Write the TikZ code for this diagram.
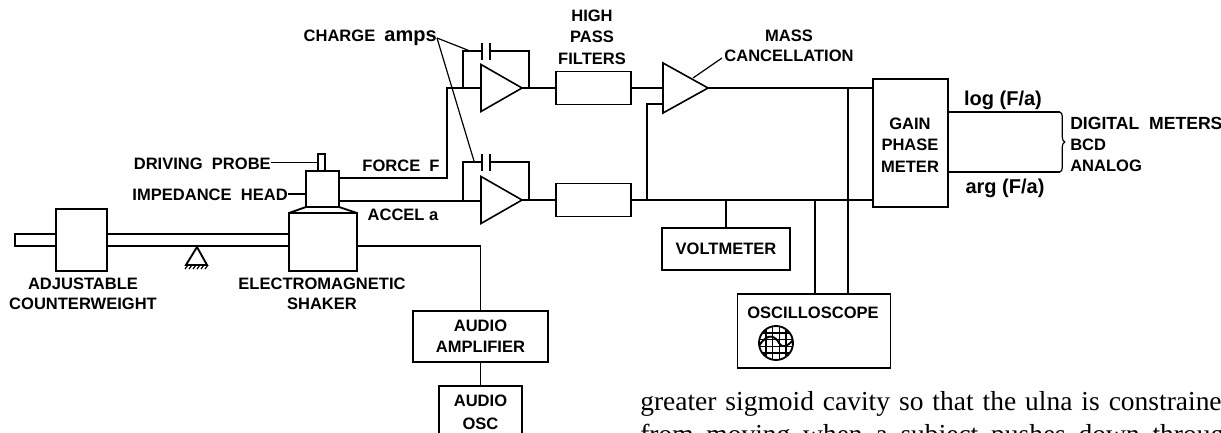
\documentclass[tikz,border=0pt]{standalone}
\usepackage{fontspec}
\setmainfont{Liberation Sans}
\newfontfamily\bookfont{Liberation Serif}
\usepackage{tikz}
\usetikzlibrary{calc,shapes.geometric,decorations.pathreplacing,positioning}
\def\px{0.75pt}
\newcommand{\lettering}{\bfseries\fontsize{12.4}{14}\selectfont}
\newcommand{\lowercaselettering}{\bfseries\fontsize{15}{14}\selectfont}
\tikzset{
  unit/.style={draw,line width=1.2pt,inner sep=0pt,outer sep=0pt,align=center,font=\lettering},
  ampl/.style={draw,line width=1.2pt,isosceles triangle,isosceles triangle stretches,inner sep=0pt,outer sep=0pt},
  lbl/.style={inner sep=0pt,align=center,font=\lettering},
  wire/.style={line width=1.4pt,line join=miter},
  thin wire/.style={line width=0.9pt},
  page line/.style={anchor=base west,inner sep=0pt,font=\bookfont\fontsize{20.6}{24}\selectfont}
}
\begin{document}
\begin{tikzpicture}[x=0.75pt,y=-0.75pt]
  \clip (0,0) rectangle (1221,432);
  % beam and shaker
  \node[unit,minimum width=51*\px,minimum height=62*\px] (counter) at (81.5,240) {};
  \node[unit,minimum width=68*\px,minimum height=58*\px] (shaker) at (323,242) {};
  \node[unit,minimum width=33*\px,minimum height=36*\px] (head) at (322.5,189) {};
  \node[unit,minimum width=7*\px,minimum height=17*\px] (probe) at (321.5,162.5) {};
  \draw[wire] (shaker.north west) -- (head.south west) (head.south east) -- (shaker.north east);
  \coordinate (rodtop) at (15,234);
  \coordinate (rodbot) at (15,246);
  \draw[wire] (counter.west |- rodtop) -- (rodtop) -- (rodbot) -- (counter.west |- rodbot);
  \draw[wire] (counter.east |- rodtop) -- (shaker.west |- rodtop);
  \draw[wire] (counter.east |- rodbot) -- (shaker.west |- rodbot);
  \draw[wire] (197,247) -- (186,265) -- (207,265) -- cycle;
  \foreach \x in {188,192,...,208} \draw[thin wire] (\x,265) -- (\x-3,269);
  \node[lbl] (counterlbl) at (83,294) {ADJUSTABLE\\[1pt]COUNTERWEIGHT};
  \node[lbl] (shakerlbl) at (322,294) {ELECTROMAGNETIC\\[1pt]SHAKER};
  \node[lbl,anchor=east] (probelbl) at (271,164) {DRIVING\ \ PROBE};
  \node[lbl,anchor=east] (headlbl) at (288,195) {IMPEDANCE\ \ HEAD};
  \draw[thin wire] (probelbl.east |- probe.west) -- (probe.west);
  \draw[thin wire] (headlbl.east |- 0,194) -- (head.west |- 0,194);

  % charge amps
  \node[ampl,anchor=west,minimum height=41*\px,minimum width=47*\px] (ampF) at (481,88) {};
  \node[ampl,anchor=west,minimum height=41*\px,minimum width=47*\px] (ampA) at (481,200) {};
  \foreach \y/\nm in {51/F,162/A} {
    \coordinate (capl\nm) at (482,\y);
    \coordinate (capr\nm) at (490,\y);
    \draw[wire] (482,\y-8) -- (482,\y+9) (490,\y-8) -- (490,\y+9);
  }
  \coordinate (forceout) at (339,178);
  \coordinate (accelout) at (339,201);
  \coordinate (joinF) at (463,88);
  \coordinate (joinA) at (463,200);
  \draw[wire] (forceout) -- (447,178) -- (447,88) -- (ampF.west);
  \draw[wire] (accelout) -- (481,201);
  \draw[wire] (joinF) |- (caplF);
  \draw[wire] (joinA) |- (caplA);
  \draw[wire] (caprF) -| (529,88);
  \draw[wire] (caprA) -| (529,200);
  \node[lbl] (forcelbl) at (401,166) {FORCE\ \ F};
  \node[lbl] (accellbl) at (403,215) {ACCEL\ a};
  \node[lbl,anchor=east] (chargelbl) at (437,38) {CHARGE\ \ {\lowercaselettering amps}};
  \draw[thin wire] (chargelbl.east) -- (470,51);
  \draw[thin wire] (chargelbl.east) -- (474,161);

  % filters and mass cancellation
  \node[unit,minimum width=75*\px,minimum height=33*\px] (hpfF) at (593.5,88) {};
  \node[unit,minimum width=75*\px,minimum height=33*\px] (hpfA) at (593.5,200) {};
  \node[lbl] (hpflbl) at (592,37) {HIGH\\[2pt]PASS\\[2pt]FILTERS};
  \draw[wire] (ampF.apex) -- (hpfF.west);
  \draw[wire] (ampA.apex) -- (hpfA.west);
  \node[ampl,anchor=west,minimum height=45*\px,minimum width=50*\px] (ampM) at (663,88) {};
  \draw[wire] (hpfF.east) -- (ampM.west);
  \coordinate (lowin) at (647,104);
  \draw[wire] (663,104) -- (lowin) -- (lowin |- hpfA.east);
  \node[lbl] (masslbl) at (789,46) {MASS\\[1pt]CANCELLATION};
  \coordinate (masstip) at (722,58);
  \draw[thin wire] (masstip) -- (693,78);

  % meters
  \node[unit,minimum width=75*\px,minimum height=128*\px] (gain) at (910.5,143) {};
  \node[lbl] (gainlbl) at (910,145) {GAIN\hspace{9pt}\\[2pt]PHASE\\[2pt]METER};
  \draw[wire] (ampM.apex) -- (gain.west |- ampM.apex);
  \draw[wire] (hpfA.east) -- (gain.west |- hpfA.east);
  \node[unit,minimum width=128*\px,minimum height=42*\px] (volt) at (726,249) {VOLTMETER};
  \draw[wire] (volt.north) -- (volt.north |- hpfA.east);
  \node[unit,minimum width=153*\px,minimum height=74*\px] (scope) at (814,331) {};
  \node[lbl] (scopelbl) at (813,313) {OSCILLOSCOPE};
  \coordinate (tapA) at (815,200);
  \coordinate (tapM) at (848,88);
  \draw[wire] (tapA) -- (tapA |- scope.north);
  \draw[wire] (tapM) -- (tapM |- scope.north);
  \coordinate (screen) at (776,343);
  \begin{scope}
    \clip (screen) circle (17);
    \foreach \d in {-10,-3.5,3.5,10} {
      \draw[thin wire] ($(screen)+(\d,-17)$) -- ($(screen)+(\d,17)$);
      \draw[thin wire] ($(screen)+(-17,\d)$) -- ($(screen)+(17,\d)$);
    }
    \draw[wire] ($(screen)+(-17,3)$) .. controls ($(screen)+(-8,-12)$) and ($(screen)+(0,-6)$) .. ($(screen)+(3,0)$) .. controls ($(screen)+(7,6)$) and ($(screen)+(12,3)$) .. ($(screen)+(17,-3)$);
  \end{scope}
  \draw[wire] (screen) circle (17);

  % outputs
  \coordinate (logend) at (1060,112);
  \coordinate (argend) at (1060,172);
  \draw[wire] (gain.east |- logend) -- (logend);
  \draw[wire] (gain.east |- argend) -- (argend);
  \draw[thin wire,decorate,decoration={brace,amplitude=3.5pt}] (logend) -- (argend);
  \node[lbl,font=\lowercaselettering] (loglbl) at (1003,100) {log (F/a)};
  \node[lbl,font=\lowercaselettering] (arglbl) at (1005,188) {arg (F/a)};
  \node[lbl,anchor=west,align=left] (digitlbl) at (1070,144.5) {{\fontsize{13.2}{14}\selectfont DIGITAL\ \ METERS}\\[2pt]BCD\\[2pt]ANALOG};

  % audio
  \node[unit,minimum width=135*\px,minimum height=51*\px] (audioamp) at (480.5,336.5) {AUDIO\\[2pt]AMPLIFIER};
  \node[unit,anchor=north,minimum width=83*\px,minimum height=60*\px] (audioosc) at (480.5,386) {};
  \node[lbl] (osclbl) at (480.5,412) {AUDIO\\[3pt]OSC};
  \draw[wire] (shaker.east |- rodbot) -| (audioamp.north);
  \draw[wire] (audioamp.south) -- (audioamp.south |- audioosc.north);

  % running text of the page
  \node[page line] (line1) at (640,410) {\makebox[436pt][s]{greater sigmoid cavity so that the ulna is constraine}};
  \node[page line] (line2) at (640,443) {\makebox[438pt][s]{from moving when a subject pushes down throug}};
\end{tikzpicture}
\end{document}
